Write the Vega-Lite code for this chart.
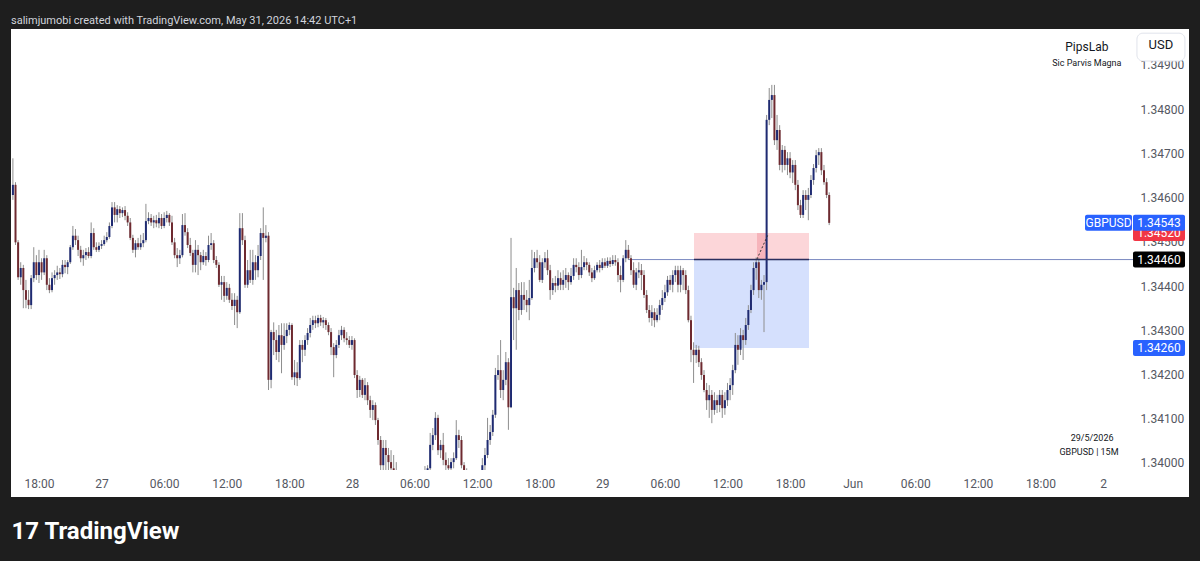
{
"$schema": "https://vega.github.io/schema/vega-lite/v6.json",
"width": 1178, "height": 468,
"autosize": {"type": "none"},
"padding": {"left": 11, "top": 29, "right": 11, "bottom": 64},
"background": "#1e1e1e",
"view": {"fill": "#ffffff", "stroke": null},
"config": {"font": "Roboto", "axis": {"grid": false, "domain": false, "ticks": false}},
"title": {"text": "salimjumobi created with TradingView.com, May 31, 2026 14:42 UTC+1", "anchor": "start", "frame": "group", "offset": -8, "color": "#d1d4dc", "fontSize": 11, "fontWeight": "normal", "font": "Roboto", "baseline": "bottom"},
"resolve": {"scale": {"color": "independent"}},
"datasets": {
"candles": [
{"bar":0,"o":1.34606,"h":1.34689,"l":1.34595,"c":1.34629},
{"bar":1,"o":1.34629,"h":1.34635,"l":1.34493,"c":1.34499},
{"bar":2,"o":1.34499,"h":1.34504,"l":1.34414,"c":1.3442},
{"bar":3,"o":1.3442,"h":1.34454,"l":1.34403,"c":1.34441},
{"bar":4,"o":1.34441,"h":1.34448,"l":1.3435,"c":1.34391},
{"bar":5,"o":1.34391,"h":1.34414,"l":1.3435,"c":1.34369},
{"bar":6,"o":1.34369,"h":1.34391,"l":1.34348,"c":1.34357},
{"bar":7,"o":1.34357,"h":1.34425,"l":1.34348,"c":1.34418},
{"bar":8,"o":1.34418,"h":1.34488,"l":1.34409,"c":1.34454},
{"bar":9,"o":1.34454,"h":1.3447,"l":1.34414,"c":1.34425},
{"bar":10,"o":1.34425,"h":1.34482,"l":1.34407,"c":1.34454},
{"bar":11,"o":1.34454,"h":1.34463,"l":1.34414,"c":1.34431},
{"bar":12,"o":1.34431,"h":1.34482,"l":1.34425,"c":1.34463},
{"bar":13,"o":1.34463,"h":1.3447,"l":1.34391,"c":1.34403},
{"bar":14,"o":1.34403,"h":1.34418,"l":1.34384,"c":1.34391},
{"bar":15,"o":1.34391,"h":1.34431,"l":1.34386,"c":1.34418},
{"bar":16,"o":1.34418,"h":1.34436,"l":1.34403,"c":1.34425},
{"bar":17,"o":1.34425,"h":1.34446,"l":1.34414,"c":1.34431},
{"bar":18,"o":1.34431,"h":1.34441,"l":1.34416,"c":1.34427},
{"bar":19,"o":1.34427,"h":1.34459,"l":1.3442,"c":1.34448},
{"bar":20,"o":1.34448,"h":1.34459,"l":1.34429,"c":1.34443},
{"bar":21,"o":1.34443,"h":1.34459,"l":1.34427,"c":1.34454},
{"bar":22,"o":1.34454,"h":1.34493,"l":1.3445,"c":1.34488},
{"bar":23,"o":1.34488,"h":1.34536,"l":1.34482,"c":1.34514},
{"bar":24,"o":1.34514,"h":1.34529,"l":1.34493,"c":1.34504},
{"bar":25,"o":1.34504,"h":1.34514,"l":1.34468,"c":1.34482},
{"bar":26,"o":1.34482,"h":1.34491,"l":1.34454,"c":1.34463},
{"bar":27,"o":1.34463,"h":1.34482,"l":1.34446,"c":1.3447},
{"bar":28,"o":1.3447,"h":1.34486,"l":1.34459,"c":1.34477},
{"bar":29,"o":1.34477,"h":1.34488,"l":1.34463,"c":1.34468},
{"bar":30,"o":1.34468,"h":1.34544,"l":1.34463,"c":1.3452},
{"bar":31,"o":1.3452,"h":1.34531,"l":1.34482,"c":1.34488},
{"bar":32,"o":1.34488,"h":1.34499,"l":1.34477,"c":1.34482},
{"bar":33,"o":1.34482,"h":1.34499,"l":1.34477,"c":1.34491},
{"bar":34,"o":1.34491,"h":1.34504,"l":1.34484,"c":1.34495},
{"bar":35,"o":1.34495,"h":1.34514,"l":1.34491,"c":1.34504},
{"bar":36,"o":1.34504,"h":1.34522,"l":1.34499,"c":1.34511},
{"bar":37,"o":1.34511,"h":1.34544,"l":1.34507,"c":1.34536},
{"bar":38,"o":1.34536,"h":1.3459,"l":1.34531,"c":1.34578},
{"bar":39,"o":1.34578,"h":1.3459,"l":1.34544,"c":1.34561},
{"bar":40,"o":1.34561,"h":1.34583,"l":1.34544,"c":1.34574},
{"bar":41,"o":1.34574,"h":1.34581,"l":1.34554,"c":1.34565},
{"bar":42,"o":1.34565,"h":1.34578,"l":1.34556,"c":1.34572},
{"bar":43,"o":1.34572,"h":1.34581,"l":1.34549,"c":1.34559},
{"bar":44,"o":1.34559,"h":1.34567,"l":1.34536,"c":1.34544},
{"bar":45,"o":1.34544,"h":1.34554,"l":1.34504,"c":1.34509},
{"bar":46,"o":1.34509,"h":1.34516,"l":1.34475,"c":1.34482},
{"bar":47,"o":1.34482,"h":1.34504,"l":1.34465,"c":1.34497},
{"bar":48,"o":1.34497,"h":1.34509,"l":1.34482,"c":1.34488},
{"bar":49,"o":1.34488,"h":1.34516,"l":1.34482,"c":1.34497},
{"bar":50,"o":1.34497,"h":1.3452,"l":1.34488,"c":1.34504},
{"bar":51,"o":1.34504,"h":1.34586,"l":1.34499,"c":1.34547},
{"bar":52,"o":1.34547,"h":1.34567,"l":1.3454,"c":1.34554},
{"bar":53,"o":1.34554,"h":1.34563,"l":1.34536,"c":1.34544},
{"bar":54,"o":1.34544,"h":1.34559,"l":1.34531,"c":1.34549},
{"bar":55,"o":1.34549,"h":1.34561,"l":1.34533,"c":1.34542},
{"bar":56,"o":1.34542,"h":1.34567,"l":1.34531,"c":1.34554},
{"bar":57,"o":1.34554,"h":1.34563,"l":1.34529,"c":1.34536},
{"bar":58,"o":1.34536,"h":1.34567,"l":1.34531,"c":1.34554},
{"bar":59,"o":1.34554,"h":1.3457,"l":1.34544,"c":1.34561},
{"bar":60,"o":1.34561,"h":1.34565,"l":1.34536,"c":1.34544},
{"bar":61,"o":1.34544,"h":1.34559,"l":1.34493,"c":1.34499},
{"bar":62,"o":1.34499,"h":1.34509,"l":1.34463,"c":1.3447},
{"bar":63,"o":1.3447,"h":1.34486,"l":1.34443,"c":1.34463},
{"bar":64,"o":1.34463,"h":1.34482,"l":1.3445,"c":1.3447},
{"bar":65,"o":1.3447,"h":1.34563,"l":1.34465,"c":1.34538},
{"bar":66,"o":1.34538,"h":1.34565,"l":1.34514,"c":1.34522},
{"bar":67,"o":1.34522,"h":1.34531,"l":1.34486,"c":1.34493},
{"bar":68,"o":1.34493,"h":1.34509,"l":1.34468,"c":1.34475},
{"bar":69,"o":1.34475,"h":1.34482,"l":1.34431,"c":1.34448},
{"bar":70,"o":1.34448,"h":1.34504,"l":1.34431,"c":1.34482},
{"bar":71,"o":1.34482,"h":1.34493,"l":1.34425,"c":1.3447},
{"bar":72,"o":1.3447,"h":1.34477,"l":1.34436,"c":1.34454},
{"bar":73,"o":1.34454,"h":1.34482,"l":1.34448,"c":1.34468},
{"bar":74,"o":1.34468,"h":1.34477,"l":1.34446,"c":1.34459},
{"bar":75,"o":1.34459,"h":1.34514,"l":1.34454,"c":1.34493},
{"bar":76,"o":1.34493,"h":1.3452,"l":1.34482,"c":1.34497},
{"bar":77,"o":1.34497,"h":1.34504,"l":1.34452,"c":1.34459},
{"bar":78,"o":1.34459,"h":1.34468,"l":1.34441,"c":1.34448},
{"bar":79,"o":1.34448,"h":1.34454,"l":1.34398,"c":1.34403},
{"bar":80,"o":1.34403,"h":1.34423,"l":1.34369,"c":1.34409},
{"bar":81,"o":1.34409,"h":1.34423,"l":1.34364,"c":1.34378},
{"bar":82,"o":1.34378,"h":1.34409,"l":1.34369,"c":1.34396},
{"bar":83,"o":1.34396,"h":1.34405,"l":1.34362,"c":1.34369},
{"bar":84,"o":1.34369,"h":1.34384,"l":1.34346,"c":1.34355},
{"bar":85,"o":1.34355,"h":1.34384,"l":1.34312,"c":1.34369},
{"bar":86,"o":1.34369,"h":1.34378,"l":1.34305,"c":1.34341},
{"bar":87,"o":1.34341,"h":1.34565,"l":1.34337,"c":1.34531},
{"bar":88,"o":1.34531,"h":1.34565,"l":1.34493,"c":1.34504},
{"bar":89,"o":1.34504,"h":1.34514,"l":1.34396,"c":1.34403},
{"bar":90,"o":1.34403,"h":1.34459,"l":1.34396,"c":1.34436},
{"bar":91,"o":1.34436,"h":1.34482,"l":1.34407,"c":1.34414},
{"bar":92,"o":1.34414,"h":1.34482,"l":1.34403,"c":1.34454},
{"bar":93,"o":1.34454,"h":1.3447,"l":1.34414,"c":1.34436},
{"bar":94,"o":1.34436,"h":1.34493,"l":1.3442,"c":1.34468},
{"bar":95,"o":1.34468,"h":1.34531,"l":1.34459,"c":1.3452},
{"bar":96,"o":1.3452,"h":1.34578,"l":1.34414,"c":1.34509},
{"bar":97,"o":1.34509,"h":1.34538,"l":1.34499,"c":1.34514},
{"bar":98,"o":1.34514,"h":1.34522,"l":1.34165,"c":1.34188},
{"bar":99,"o":1.34188,"h":1.34301,"l":1.34169,"c":1.34296},
{"bar":100,"o":1.34296,"h":1.34318,"l":1.34244,"c":1.34278},
{"bar":101,"o":1.34278,"h":1.34301,"l":1.34233,"c":1.34251},
{"bar":102,"o":1.34251,"h":1.34312,"l":1.34228,"c":1.34289},
{"bar":103,"o":1.34289,"h":1.34316,"l":1.34203,"c":1.34267},
{"bar":104,"o":1.34267,"h":1.34316,"l":1.34256,"c":1.34287},
{"bar":105,"o":1.34287,"h":1.34316,"l":1.34271,"c":1.34301},
{"bar":106,"o":1.34301,"h":1.34318,"l":1.34289,"c":1.34312},
{"bar":107,"o":1.34312,"h":1.34316,"l":1.34188,"c":1.34194},
{"bar":108,"o":1.34194,"h":1.34233,"l":1.34176,"c":1.34205},
{"bar":109,"o":1.34205,"h":1.34228,"l":1.34174,"c":1.34192},
{"bar":110,"o":1.34192,"h":1.34278,"l":1.34188,"c":1.34267},
{"bar":111,"o":1.34267,"h":1.34278,"l":1.34228,"c":1.34256},
{"bar":112,"o":1.34256,"h":1.34289,"l":1.34242,"c":1.34278},
{"bar":113,"o":1.34278,"h":1.34305,"l":1.34267,"c":1.34294},
{"bar":114,"o":1.34294,"h":1.34328,"l":1.34284,"c":1.34312},
{"bar":115,"o":1.34312,"h":1.34333,"l":1.34301,"c":1.34323},
{"bar":116,"o":1.34323,"h":1.34333,"l":1.34305,"c":1.34316},
{"bar":117,"o":1.34316,"h":1.34335,"l":1.34307,"c":1.34328},
{"bar":118,"o":1.34328,"h":1.34335,"l":1.3431,"c":1.34318},
{"bar":119,"o":1.34318,"h":1.3433,"l":1.34305,"c":1.34323},
{"bar":120,"o":1.34323,"h":1.34328,"l":1.34301,"c":1.34312},
{"bar":121,"o":1.34312,"h":1.34318,"l":1.34289,"c":1.34296},
{"bar":122,"o":1.34296,"h":1.34305,"l":1.34244,"c":1.34262},
{"bar":123,"o":1.34262,"h":1.34271,"l":1.34194,"c":1.34244},
{"bar":124,"o":1.34244,"h":1.34278,"l":1.34237,"c":1.34267},
{"bar":125,"o":1.34267,"h":1.34301,"l":1.3426,"c":1.34289},
{"bar":126,"o":1.34289,"h":1.3431,"l":1.34278,"c":1.34301},
{"bar":127,"o":1.34301,"h":1.34307,"l":1.34273,"c":1.34282},
{"bar":128,"o":1.34282,"h":1.34296,"l":1.34267,"c":1.34278},
{"bar":129,"o":1.34278,"h":1.34287,"l":1.3426,"c":1.34267},
{"bar":130,"o":1.34267,"h":1.34287,"l":1.34256,"c":1.34278},
{"bar":131,"o":1.34278,"h":1.34282,"l":1.34192,"c":1.34199},
{"bar":132,"o":1.34199,"h":1.3421,"l":1.34147,"c":1.34165},
{"bar":133,"o":1.34165,"h":1.34197,"l":1.34149,"c":1.34188},
{"bar":134,"o":1.34188,"h":1.34192,"l":1.34147,"c":1.34154},
{"bar":135,"o":1.34154,"h":1.34192,"l":1.34142,"c":1.34176},
{"bar":136,"o":1.34176,"h":1.34183,"l":1.34131,"c":1.34142},
{"bar":137,"o":1.34142,"h":1.34152,"l":1.34102,"c":1.3412},
{"bar":138,"o":1.3412,"h":1.34142,"l":1.34097,"c":1.34131},
{"bar":139,"o":1.34131,"h":1.34137,"l":1.34086,"c":1.34097},
{"bar":140,"o":1.34097,"h":1.34102,"l":1.34041,"c":1.34052},
{"bar":141,"o":1.34052,"h":1.34061,"l":1.33984,"c":1.33995},
{"bar":142,"o":1.33995,"h":1.34052,"l":1.33984,"c":1.34034},
{"bar":143,"o":1.34034,"h":1.34052,"l":1.33984,"c":1.34018},
{"bar":144,"o":1.34018,"h":1.34034,"l":1.33984,"c":1.34002},
{"bar":145,"o":1.34002,"h":1.34029,"l":1.33979,"c":1.33988},
{"bar":146,"o":1.33988,"h":1.34018,"l":1.33962,"c":1.33973},
{"bar":147,"o":1.33973,"h":1.34002,"l":1.3395,"c":1.33966},
{"bar":148,"o":1.33966,"h":1.33977,"l":1.33939,"c":1.3395},
{"bar":149,"o":1.3395,"h":1.33971,"l":1.33934,"c":1.33957},
{"bar":150,"o":1.33957,"h":1.33973,"l":1.33932,"c":1.33943},
{"bar":151,"o":1.33943,"h":1.33966,"l":1.3393,"c":1.33953},
{"bar":152,"o":1.33953,"h":1.33968,"l":1.3393,"c":1.33939},
{"bar":153,"o":1.33939,"h":1.33962,"l":1.33928,"c":1.33948},
{"bar":154,"o":1.33948,"h":1.33975,"l":1.33939,"c":1.33962},
{"bar":155,"o":1.33962,"h":1.33975,"l":1.33941,"c":1.33953},
{"bar":156,"o":1.33953,"h":1.33977,"l":1.33943,"c":1.33966},
{"bar":157,"o":1.33966,"h":1.33979,"l":1.33948,"c":1.33971},
{"bar":158,"o":1.33971,"h":1.33993,"l":1.33962,"c":1.33979},
{"bar":159,"o":1.33979,"h":1.33995,"l":1.33962,"c":1.33988},
{"bar":160,"o":1.33988,"h":1.34068,"l":1.33984,"c":1.34041},
{"bar":161,"o":1.34041,"h":1.34079,"l":1.34029,"c":1.34063},
{"bar":162,"o":1.34063,"h":1.34115,"l":1.34052,"c":1.34102},
{"bar":163,"o":1.34102,"h":1.34109,"l":1.34018,"c":1.34029},
{"bar":164,"o":1.34029,"h":1.34052,"l":1.34011,"c":1.34041},
{"bar":165,"o":1.34041,"h":1.34068,"l":1.33995,"c":1.34007},
{"bar":166,"o":1.34007,"h":1.34024,"l":1.33984,"c":1.33995},
{"bar":167,"o":1.33995,"h":1.34011,"l":1.33975,"c":1.33988},
{"bar":168,"o":1.33988,"h":1.34011,"l":1.33979,"c":1.34002},
{"bar":169,"o":1.34002,"h":1.34024,"l":1.33988,"c":1.34011},
{"bar":170,"o":1.34011,"h":1.34097,"l":1.34007,"c":1.34063},
{"bar":171,"o":1.34063,"h":1.34075,"l":1.34034,"c":1.34052},
{"bar":172,"o":1.34052,"h":1.34061,"l":1.33988,"c":1.33995},
{"bar":173,"o":1.33995,"h":1.34002,"l":1.33962,"c":1.33979},
{"bar":174,"o":1.33979,"h":1.33988,"l":1.33943,"c":1.33962},
{"bar":175,"o":1.33962,"h":1.33975,"l":1.33934,"c":1.33948},
{"bar":176,"o":1.33948,"h":1.33966,"l":1.3393,"c":1.33953},
{"bar":177,"o":1.33953,"h":1.33968,"l":1.3393,"c":1.33943},
{"bar":178,"o":1.33943,"h":1.33971,"l":1.33934,"c":1.33957},
{"bar":179,"o":1.33957,"h":1.33979,"l":1.33948,"c":1.33971},
{"bar":180,"o":1.33971,"h":1.34011,"l":1.33962,"c":1.33995},
{"bar":181,"o":1.33995,"h":1.34034,"l":1.33984,"c":1.34018},
{"bar":182,"o":1.34018,"h":1.34102,"l":1.34011,"c":1.34052},
{"bar":183,"o":1.34052,"h":1.34086,"l":1.34041,"c":1.3407},
{"bar":184,"o":1.3407,"h":1.3412,"l":1.34061,"c":1.34109},
{"bar":185,"o":1.34109,"h":1.34215,"l":1.34102,"c":1.34199},
{"bar":186,"o":1.34199,"h":1.34244,"l":1.34188,"c":1.3421},
{"bar":187,"o":1.3421,"h":1.34278,"l":1.34147,"c":1.34165},
{"bar":188,"o":1.34165,"h":1.3421,"l":1.34142,"c":1.34188},
{"bar":189,"o":1.34188,"h":1.34251,"l":1.34176,"c":1.34228},
{"bar":190,"o":1.34228,"h":1.34237,"l":1.34075,"c":1.34126},
{"bar":191,"o":1.34126,"h":1.34509,"l":1.34124,"c":1.34375},
{"bar":192,"o":1.34375,"h":1.34396,"l":1.34278,"c":1.3435},
{"bar":193,"o":1.3435,"h":1.34441,"l":1.34256,"c":1.34391},
{"bar":194,"o":1.34391,"h":1.34407,"l":1.34323,"c":1.34346},
{"bar":195,"o":1.34346,"h":1.34409,"l":1.34335,"c":1.3438},
{"bar":196,"o":1.3438,"h":1.34409,"l":1.34346,"c":1.34369},
{"bar":197,"o":1.34369,"h":1.34391,"l":1.34341,"c":1.34357},
{"bar":198,"o":1.34357,"h":1.34414,"l":1.34323,"c":1.34373},
{"bar":199,"o":1.34373,"h":1.34482,"l":1.34369,"c":1.34441},
{"bar":200,"o":1.34441,"h":1.34477,"l":1.34431,"c":1.34463},
{"bar":201,"o":1.34463,"h":1.34482,"l":1.34441,"c":1.34454},
{"bar":202,"o":1.34454,"h":1.3447,"l":1.34409,"c":1.34414},
{"bar":203,"o":1.34414,"h":1.34463,"l":1.34407,"c":1.34454},
{"bar":204,"o":1.34454,"h":1.34477,"l":1.34441,"c":1.34463},
{"bar":205,"o":1.34463,"h":1.34482,"l":1.34425,"c":1.34436},
{"bar":206,"o":1.34436,"h":1.34448,"l":1.34369,"c":1.34391},
{"bar":207,"o":1.34391,"h":1.34418,"l":1.3438,"c":1.34407},
{"bar":208,"o":1.34407,"h":1.34423,"l":1.34386,"c":1.34401},
{"bar":209,"o":1.34401,"h":1.34436,"l":1.34391,"c":1.34418},
{"bar":210,"o":1.34418,"h":1.34431,"l":1.34391,"c":1.34403},
{"bar":211,"o":1.34403,"h":1.34436,"l":1.34391,"c":1.34414},
{"bar":212,"o":1.34414,"h":1.34441,"l":1.34396,"c":1.34425},
{"bar":213,"o":1.34425,"h":1.34431,"l":1.34391,"c":1.34409},
{"bar":214,"o":1.34409,"h":1.34441,"l":1.34403,"c":1.34423},
{"bar":215,"o":1.34423,"h":1.34463,"l":1.34414,"c":1.34448},
{"bar":216,"o":1.34448,"h":1.34463,"l":1.34431,"c":1.34443},
{"bar":217,"o":1.34443,"h":1.34454,"l":1.34414,"c":1.34425},
{"bar":218,"o":1.34425,"h":1.34482,"l":1.34418,"c":1.34443},
{"bar":219,"o":1.34443,"h":1.34468,"l":1.34436,"c":1.34454},
{"bar":220,"o":1.34454,"h":1.34463,"l":1.34436,"c":1.34448},
{"bar":221,"o":1.34448,"h":1.34454,"l":1.34423,"c":1.34431},
{"bar":222,"o":1.34431,"h":1.34441,"l":1.34409,"c":1.34418},
{"bar":223,"o":1.34418,"h":1.34446,"l":1.34414,"c":1.34436},
{"bar":224,"o":1.34436,"h":1.34454,"l":1.34431,"c":1.34448},
{"bar":225,"o":1.34448,"h":1.34459,"l":1.34431,"c":1.34441},
{"bar":226,"o":1.34441,"h":1.34463,"l":1.34436,"c":1.34454},
{"bar":227,"o":1.34454,"h":1.34463,"l":1.34441,"c":1.34446},
{"bar":228,"o":1.34446,"h":1.34465,"l":1.34441,"c":1.34457},
{"bar":229,"o":1.34457,"h":1.34465,"l":1.34443,"c":1.3445},
{"bar":230,"o":1.3445,"h":1.3447,"l":1.34446,"c":1.34459},
{"bar":231,"o":1.34459,"h":1.3447,"l":1.34446,"c":1.34454},
{"bar":232,"o":1.34454,"h":1.34463,"l":1.34409,"c":1.34425},
{"bar":233,"o":1.34425,"h":1.34446,"l":1.34386,"c":1.34414},
{"bar":234,"o":1.34414,"h":1.3447,"l":1.34409,"c":1.34463},
{"bar":235,"o":1.34463,"h":1.34504,"l":1.34454,"c":1.34482},
{"bar":236,"o":1.34482,"h":1.34493,"l":1.34459,"c":1.34463},
{"bar":237,"o":1.34463,"h":1.3447,"l":1.34425,"c":1.34436},
{"bar":238,"o":1.34436,"h":1.34454,"l":1.34396,"c":1.34403},
{"bar":239,"o":1.34403,"h":1.34441,"l":1.34391,"c":1.34431},
{"bar":240,"o":1.34431,"h":1.34454,"l":1.34418,"c":1.34436},
{"bar":241,"o":1.34436,"h":1.3445,"l":1.34391,"c":1.34425},
{"bar":242,"o":1.34425,"h":1.34436,"l":1.34373,"c":1.3438},
{"bar":243,"o":1.3438,"h":1.34391,"l":1.34339,"c":1.34346},
{"bar":244,"o":1.34346,"h":1.34357,"l":1.34318,"c":1.34328},
{"bar":245,"o":1.34328,"h":1.34357,"l":1.3431,"c":1.34341},
{"bar":246,"o":1.34341,"h":1.3435,"l":1.34307,"c":1.34323},
{"bar":247,"o":1.34323,"h":1.3435,"l":1.34318,"c":1.34335},
{"bar":248,"o":1.34335,"h":1.34369,"l":1.34323,"c":1.34357},
{"bar":249,"o":1.34357,"h":1.34391,"l":1.34346,"c":1.34373},
{"bar":250,"o":1.34373,"h":1.34403,"l":1.34364,"c":1.34386},
{"bar":251,"o":1.34386,"h":1.34423,"l":1.34378,"c":1.34414},
{"bar":252,"o":1.34414,"h":1.34425,"l":1.34391,"c":1.34403},
{"bar":253,"o":1.34403,"h":1.34436,"l":1.34386,"c":1.34425},
{"bar":254,"o":1.34425,"h":1.34446,"l":1.34409,"c":1.34436},
{"bar":255,"o":1.34436,"h":1.34446,"l":1.34386,"c":1.34403},
{"bar":256,"o":1.34403,"h":1.34446,"l":1.34386,"c":1.34436},
{"bar":257,"o":1.34436,"h":1.34441,"l":1.34391,"c":1.34425},
{"bar":258,"o":1.34425,"h":1.34436,"l":1.34382,"c":1.34391},
{"bar":259,"o":1.34391,"h":1.34401,"l":1.34318,"c":1.34323},
{"bar":260,"o":1.34323,"h":1.34333,"l":1.34228,"c":1.34256},
{"bar":261,"o":1.34256,"h":1.34273,"l":1.34181,"c":1.34244},
{"bar":262,"o":1.34244,"h":1.34267,"l":1.34226,"c":1.34256},
{"bar":263,"o":1.34256,"h":1.34265,"l":1.34217,"c":1.34228},
{"bar":264,"o":1.34228,"h":1.34237,"l":1.34188,"c":1.34199},
{"bar":265,"o":1.34199,"h":1.3421,"l":1.3416,"c":1.34165},
{"bar":266,"o":1.34165,"h":1.34181,"l":1.3412,"c":1.34142},
{"bar":267,"o":1.34142,"h":1.34176,"l":1.34102,"c":1.34154},
{"bar":268,"o":1.34154,"h":1.34165,"l":1.3409,"c":1.3412},
{"bar":269,"o":1.3412,"h":1.3416,"l":1.34109,"c":1.34142},
{"bar":270,"o":1.34142,"h":1.34154,"l":1.34113,"c":1.34131},
{"bar":271,"o":1.34131,"h":1.34165,"l":1.34115,"c":1.34154},
{"bar":272,"o":1.34154,"h":1.34165,"l":1.34102,"c":1.34124},
{"bar":273,"o":1.34124,"h":1.3416,"l":1.34109,"c":1.34142},
{"bar":274,"o":1.34142,"h":1.34181,"l":1.34129,"c":1.34165},
{"bar":275,"o":1.34165,"h":1.34192,"l":1.34142,"c":1.34176},
{"bar":276,"o":1.34176,"h":1.34222,"l":1.34154,"c":1.3421},
{"bar":277,"o":1.3421,"h":1.34294,"l":1.34203,"c":1.34267},
{"bar":278,"o":1.34267,"h":1.34289,"l":1.34222,"c":1.34256},
{"bar":279,"o":1.34256,"h":1.34305,"l":1.34244,"c":1.34289},
{"bar":280,"o":1.34289,"h":1.34301,"l":1.34233,"c":1.34278},
{"bar":281,"o":1.34278,"h":1.34328,"l":1.34267,"c":1.34312},
{"bar":282,"o":1.34312,"h":1.34357,"l":1.34301,"c":1.34346},
{"bar":283,"o":1.34346,"h":1.34403,"l":1.34339,"c":1.34391},
{"bar":284,"o":1.34391,"h":1.34454,"l":1.3438,"c":1.34441},
{"bar":285,"o":1.34441,"h":1.34465,"l":1.34414,"c":1.34454},
{"bar":286,"o":1.34454,"h":1.34463,"l":1.34373,"c":1.34391},
{"bar":287,"o":1.34391,"h":1.34414,"l":1.34369,"c":1.34403},
{"bar":288,"o":1.34403,"h":1.34425,"l":1.34296,"c":1.34409},
{"bar":289,"o":1.34409,"h":1.34787,"l":1.34391,"c":1.34776},
{"bar":290,"o":1.34776,"h":1.34848,"l":1.34764,"c":1.34821},
{"bar":291,"o":1.34821,"h":1.34855,"l":1.3478,"c":1.34832},
{"bar":292,"o":1.34832,"h":1.34855,"l":1.34719,"c":1.3473},
{"bar":293,"o":1.3473,"h":1.34787,"l":1.34708,"c":1.34753},
{"bar":294,"o":1.34753,"h":1.34764,"l":1.34662,"c":1.34674},
{"bar":295,"o":1.34674,"h":1.34719,"l":1.34657,"c":1.34708},
{"bar":296,"o":1.34708,"h":1.34717,"l":1.34662,"c":1.34674},
{"bar":297,"o":1.34674,"h":1.34703,"l":1.34651,"c":1.34689},
{"bar":298,"o":1.34689,"h":1.34703,"l":1.34644,"c":1.34657},
{"bar":299,"o":1.34657,"h":1.34685,"l":1.34633,"c":1.34674},
{"bar":300,"o":1.34674,"h":1.34685,"l":1.34617,"c":1.34629},
{"bar":301,"o":1.34629,"h":1.3464,"l":1.34572,"c":1.34583},
{"bar":302,"o":1.34583,"h":1.34595,"l":1.34554,"c":1.34561},
{"bar":303,"o":1.34561,"h":1.34617,"l":1.34554,"c":1.34606},
{"bar":304,"o":1.34606,"h":1.34617,"l":1.34572,"c":1.34595},
{"bar":305,"o":1.34595,"h":1.34622,"l":1.34549,"c":1.34606},
{"bar":306,"o":1.34606,"h":1.34651,"l":1.34599,"c":1.3464},
{"bar":307,"o":1.3464,"h":1.34676,"l":1.34629,"c":1.34667},
{"bar":308,"o":1.34667,"h":1.34708,"l":1.34657,"c":1.34696},
{"bar":309,"o":1.34696,"h":1.34712,"l":1.34674,"c":1.34703},
{"bar":310,"o":1.34703,"h":1.34712,"l":1.34651,"c":1.34662},
{"bar":311,"o":1.34662,"h":1.34674,"l":1.34629,"c":1.34635},
{"bar":312,"o":1.34635,"h":1.34644,"l":1.34599,"c":1.34606},
{"bar":313,"o":1.34606,"h":1.34612,"l":1.34538,"c":1.34543}
],
"tags": [
{"kind":"stop","label":"1.34520","p":1.3452},
{"kind":"last","label":"1.34543","p":1.34543},
{"kind":"line","label":"1.34460","p":1.3446},
{"kind":"target","label":"1.34260","p":1.3426}
]
},
"layer": [
{
"data": {"values": [
{"kind":"stop","t1":261.16,"t2":305.25,"p1":1.3446,"p2":1.3452},
{"kind":"target","t1":261.16,"t2":305.25,"p1":1.3426,"p2":1.3446},
{"kind":"hit","t1":285.32,"t2":289.15,"p1":1.3446,"p2":1.3452}
]},
"mark": {"type": "rect", "opacity": 1},
"encoding": {
"x": {"field": "t1", "type": "quantitative",
"scale": {"domain": [-0.73, 450.96], "nice": false, "zero": false, "padding": 0},
"axis": {"orient": "bottom", "offset": -27, "values": [10,34,58,82,106,130,154,178,202,226,250,274,298,322,346,370,394,418],
"labelExpr": "['18:00','27','06:00','12:00','18:00','28','06:00','12:00','18:00','29','06:00','12:00','18:00','Jun','06:00','12:00','18:00','2'][round((datum.value-10)/24)]",
"labelColor": "#555862", "labelFontSize": 12, "labelFont": "Roboto", "labelPadding": 8, "labelFlush": false, "labelOverlap": false,
"title": "17 TradingView", "titleAnchor": "start", "titleAlign": "left", "titleFontSize": 24, "titleFontWeight": "bold", "titleFont": "Roboto", "titleColor": "#ffffff", "titlePadding": 30,
"zindex": 1, "grid": false, "domain": false, "ticks": false}},
"x2": {"field": "t2"},
"y": {"field": "p1", "type": "quantitative",
"scale": {"domain": [1.339231, 1.349814], "nice": false, "zero": false, "padding": 0},
"axis": {"orient": "right", "offset": -59, "values": [1.34,1.341,1.342,1.343,1.344,1.345,1.346,1.347,1.348,1.349], "format": ".5f",
"labelColor": "#555862", "labelFontSize": 12, "labelFont": "Roboto", "labelPadding": 10, "labelFlush": false, "labelOverlap": false,
"title": null, "zindex": 0, "grid": false, "domain": false, "ticks": false}},
"y2": {"field": "p2"},
"color": {"field": "kind", "type": "nominal", "scale": {"domain": ["stop","target","hit"], "range": ["#fcd6d9","#d5e0fd","#f6b4bb"]}, "legend": null}
}
},
{
"data": {"values": [{"t1": 236, "t2": 429.49, "p": 1.3446}]},
"mark": {"type": "rule", "color": "#7a89c0", "strokeWidth": 1},
"encoding": {"x": {"field": "t1", "type": "quantitative"}, "x2": {"field": "t2"}, "y": {"field": "p", "type": "quantitative"}}
},
{
"data": {"name": "candles"},
"mark": {"type": "rule", "color": "#8e8e8e", "strokeWidth": 1},
"encoding": {"x": {"field": "bar", "type": "quantitative"}, "y": {"field": "l", "type": "quantitative"}, "y2": {"field": "h"}}
},
{
"data": {"name": "candles"},
"mark": {"type": "bar", "width": 2, "orient": "vertical", "opacity": 1},
"encoding": {"x": {"field": "bar", "type": "quantitative"}, "y": {"field": "o", "type": "quantitative"}, "y2": {"field": "c"},
"color": {"condition": {"test": "datum.c >= datum.o", "value": "#1f2b72"}, "value": "#6e2a30"}}
},
{
"data": {"values": [{}]},
"mark": {"type": "rule", "color": "#2a2f5e", "strokeWidth": 1.5},
"encoding": {"x": {"datum": 261.16}, "x2": {"datum": 305.25}, "y": {"datum": 1.3446}}
},
{
"data": {"values": [{}]},
"mark": {"type": "rule", "color": "#333333", "strokeWidth": 1, "strokeDash": [2, 2]},
"encoding": {"x": {"datum": 285.3}, "x2": {"datum": 289.5}, "y": {"datum": 1.34461}, "y2": {"datum": 1.34516}}
},
{
"data": {"values": [{}]},
"mark": {"type": "rect", "color": "#ffffff", "opacity": 1},
"encoding": {"x": {"datum": -0.73}, "x2": {"datum": 450.96}, "y": {"datum": 1.33984}, "y2": {"datum": 1.339231}}
},
{
"data": {"name": "tags"},
"transform": [{"filter": "datum.kind == 'stop'"}],
"mark": {"type": "tick", "orient": "horizontal", "size": 52, "thickness": 16, "opacity": 1, "color": "#f23645", "cornerRadius": 2},
"encoding": {"x": {"datum": 439.46}, "y": {"field": "p", "type": "quantitative"}}
},
{
"data": {"name": "tags"},
"transform": [{"filter": "datum.kind == 'stop'"}],
"mark": {"type": "text", "color": "#ffffff", "fontSize": 12, "font": "Roboto", "align": "center", "baseline": "middle"},
"encoding": {"x": {"datum": 439.46}, "y": {"field": "p", "type": "quantitative"}, "text": {"field": "label"}}
},
{
"data": {"name": "tags"},
"transform": [{"filter": "datum.kind != 'stop'"}],
"mark": {"type": "tick", "orient": "horizontal", "size": 52, "thickness": 16, "opacity": 1, "cornerRadius": 2},
"encoding": {"x": {"datum": 439.46}, "y": {"field": "p", "type": "quantitative"},
"color": {"field": "kind", "type": "nominal", "scale": {"domain": ["last","line","target"], "range": ["#2962ff","#000000","#2962ff"]}, "legend": null}}
},
{
"data": {"name": "tags"},
"transform": [{"filter": "datum.kind != 'stop'"}],
"mark": {"type": "text", "color": "#ffffff", "fontSize": 12, "font": "Roboto", "align": "center", "baseline": "middle"},
"encoding": {"x": {"datum": 439.46}, "y": {"field": "p", "type": "quantitative"}, "text": {"field": "label"}}
},
{
"data": {"values": [{}]},
"mark": {"type": "tick", "orient": "horizontal", "size": 47, "thickness": 16, "opacity": 1, "color": "#2962ff", "cornerRadius": 2},
"encoding": {"x": {"datum": 420.1}, "y": {"datum": 1.34543}}
},
{
"data": {"values": [{}]},
"mark": {"type": "text", "text": "GBPUSD", "color": "#ffffff", "fontSize": 12, "font": "Roboto", "align": "center", "baseline": "middle"},
"encoding": {"x": {"datum": 420.1}, "y": {"datum": 1.34543}}
},
{
"data": {"values": [{}]},
"mark": {"type": "rect", "fill": "#ffffff", "stroke": "#e0e3eb", "strokeWidth": 1, "cornerRadius": 6, "opacity": 1},
"encoding": {"x": {"datum": 431.0}, "x2": {"datum": 449.4}, "y": {"datum": 1.34972}, "y2": {"datum": 1.34909}}
},
{
"data": {"values": [{}]},
"mark": {"type": "text", "text": "USD", "color": "#131722", "fontSize": 13, "font": "Roboto", "align": "center", "baseline": "middle"},
"encoding": {"x": {"datum": 440.2}, "y": {"datum": 1.349451}}
},
{
"data": {"values": [{}]},
"mark": {"type": "text", "text": "PipsLab", "color": "#131722", "fontSize": 12, "font": "Roboto", "align": "center", "baseline": "middle"},
"encoding": {"x": {"datum": 411.8}, "y": {"datum": 1.349406}}
},
{
"data": {"values": [{}]},
"mark": {"type": "text", "text": "Sic Parvis Magna", "color": "#131722", "fontSize": 9, "font": "Roboto", "align": "center", "baseline": "middle"},
"encoding": {"x": {"datum": 411.8}, "y": {"datum": 1.349044}}
},
{
"data": {"values": [{}]},
"mark": {"type": "text", "text": "29/5/2026", "color": "#131722", "fontSize": 9, "font": "Roboto", "align": "center", "baseline": "middle"},
"encoding": {"x": {"datum": 413.8}, "y": {"datum": 1.340565}}
},
{
"data": {"values": [{}]},
"mark": {"type": "text", "text": "GBPUSD | 15M", "color": "#131722", "fontSize": 9, "font": "Roboto", "align": "center", "baseline": "middle"},
"encoding": {"x": {"datum": 412.6}, "y": {"datum": 1.340249}}
}
]
}
